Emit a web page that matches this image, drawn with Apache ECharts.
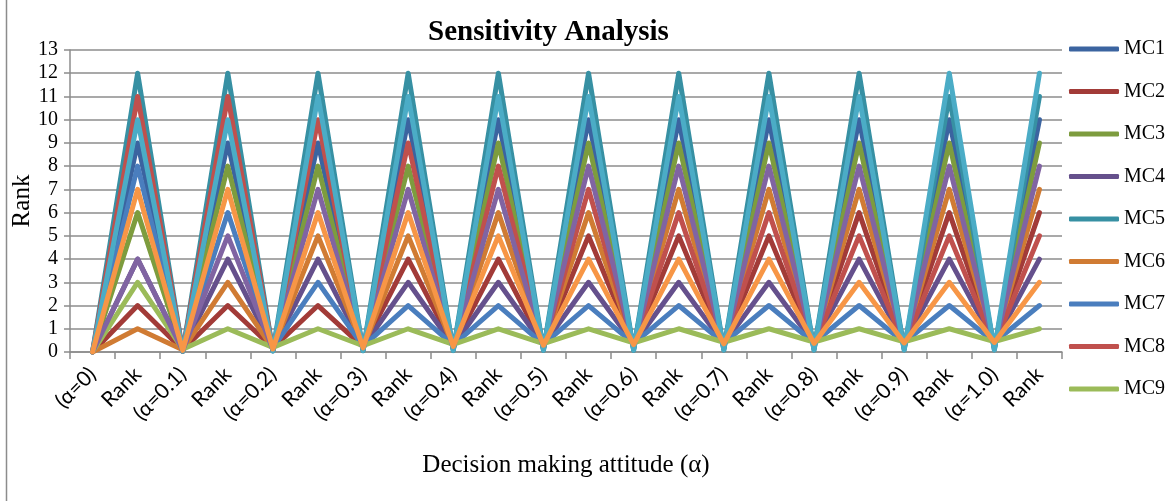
<!DOCTYPE html>
<html>
<head>
<meta charset="utf-8">
<script src="https://cdn.jsdelivr.net/npm/echarts@6/dist/echarts.min.js"></script>
<style>
html,body{margin:0;padding:0;background:#fff;}
#chart{width:1174px;height:501px;}
</style>
</head>
<body>
<div id="chart"></div>
<script>
var categories = ['(\u03b1=0)','Rank','(\u03b1=0.1)','Rank','(\u03b1=0.2)','Rank','(\u03b1=0.3)','Rank','(\u03b1=0.4)','Rank','(\u03b1=0.5)','Rank','(\u03b1=0.6)','Rank','(\u03b1=0.7)','Rank','(\u03b1=0.8)','Rank','(\u03b1=0.9)','Rank','(\u03b1=1.0)','Rank'];
var yTicks = [0,1,2,3,4,5,6,7,8,9,10,11,12,13];
var seriesNames = ['MC1','MC2','MC3','MC4','MC5','MC6','MC7','MC8','MC9','MC10','MC11','MC12'];
var legendNames = ['MC1','MC2','MC3','MC4','MC5','MC6','MC7','MC8','MC9'];
var colors = ['#3B64A0','#A23B38','#7D9C3E','#65508C','#3790A3','#D07B33','#4A7EBE','#C0504D','#9BBB59','#8064A2','#4BACC6','#F79646'];

var MC1  = [0,9, 0.05,9, 0.08,9, 0.10,10, 0.12,10, 0.13,10, 0.14,10, 0.15,10, 0.15,10, 0.16,10, 0.16,10];
var MC2  = [0,2, 0.10,2, 0.17,2, 0.22,4, 0.26,4, 0.28,5, 0.31,5, 0.33,5, 0.34,6, 0.35,6, 0.36,6];
var MC3  = [0,6, 0.06,8, 0.09,8, 0.12,8, 0.15,9, 0.16,9, 0.17,9, 0.18,9, 0.19,9, 0.20,9, 0.20,9];
var MC4  = [0,4, 0.09,4, 0.16,4, 0.22,3, 0.27,3, 0.30,3, 0.33,3, 0.35,3, 0.37,4, 0.38,4, 0.39,4];
var MC5  = [0,12, 0.02,12, 0.04,12, 0.05,12, 0.06,12, 0.07,12, 0.07,12, 0.08,12, 0.08,12, 0.09,11, 0.09,11];
var MC6  = [0,1, 0.10,3, 0.15,5, 0.19,5, 0.23,6, 0.26,6, 0.28,7, 0.29,7, 0.30,7, 0.31,7, 0.32,7];
var MC7  = [0,8, 0.08,6, 0.17,3, 0.24,2, 0.30,2, 0.33,2, 0.36,2, 0.38,2, 0.40,2, 0.41,2, 0.42,2];
var MC8  = [0,11, 0.03,11, 0.06,10, 0.10,9, 0.15,8, 0.19,7, 0.24,6, 0.27,6, 0.29,5, 0.31,5, 0.33,5];
var MC9  = [0,3, 0.12,1, 0.20,1, 0.27,1, 0.33,1, 0.36,1, 0.39,1, 0.42,1, 0.43,1, 0.44,1, 0.45,1];
var MC10 = [0,4, 0.07,5, 0.11,7, 0.15,7, 0.18,7, 0.19,8, 0.21,8, 0.22,8, 0.23,8, 0.24,8, 0.25,8];
var MC11 = [0,10, 0.03,10, 0.04,11, 0.06,11, 0.07,11, 0.08,11, 0.08,11, 0.09,11, 0.09,11, 0.09,12, 0.09,12];
var MC12 = [0,7, 0.07,7, 0.13,6, 0.18,6, 0.24,5, 0.29,4, 0.32,4, 0.35,4, 0.37,3, 0.39,3, 0.41,3];
var seriesData = [MC1,MC2,MC3,MC4,MC5,MC6,MC7,MC8,MC9,MC10,MC11,MC12];

var chart = echarts.init(document.getElementById('chart'), null, {renderer:'canvas'});
var gridColor = '#8c8c8c';
var series = seriesNames.map(function(n,i){
  return {
    name:n, type:'line', data:seriesData[i], symbol:'none', smooth:false,
    lineStyle:{width:5, color:colors[i], cap:'round', join:'round'},
    itemStyle:{color:colors[i]},
    emphasis:{disabled:true}, animation:false
  };
});
chart.setOption({
  animation:false,
  color:colors,
  title:{
    text:'Sensitivity Analysis', left:423, top:13,
    textStyle:{fontFamily:'Liberation Serif', fontSize:29, fontWeight:'bold', color:'#000'}
  },
  legend:{
    data:legendNames, orient:'vertical', left:1064, top:34,
    icon:'roundRect', itemWidth:50, itemHeight:5, itemGap:22.5,
    textStyle:{fontFamily:'Liberation Serif', fontSize:20, color:'#000', lineHeight:20}
  },
  graphic:[{type:'line', z:100, shape:{x1:6.5,y1:0,x2:6.5,y2:501}, style:{stroke:'#8c8c8c', lineWidth:1.5}}],
  grid:{left:70, right:112, top:50, bottom:149, containLabel:false, outerBoundsMode:'none'},
  xAxis:{
    type:'category', data:categories, boundaryGap:true,
    name:'Decision making attitude (\u03b1)', nameLocation:'middle', nameGap:101, nameMoveOverlap:false,
    nameTextStyle:{fontFamily:'Liberation Serif', fontSize:25, color:'#000'},
    axisLine:{lineStyle:{color:gridColor, width:1.5}},
    axisTick:{show:true, alignWithLabel:false, length:7, lineStyle:{color:gridColor, width:1.5}},
    axisLabel:{rotate:45, interval:0, margin:19, fontFamily:'Lato', fontSize:21, color:'#000'}
  },
  yAxis:{
    type:'value', min:yTicks[0], max:yTicks[yTicks.length-1], interval:1,
    name:'Rank', nameLocation:'middle', nameGap:35, nameMoveOverlap:false,
    nameTextStyle:{fontFamily:'Liberation Serif', fontSize:25, color:'#000'},
    axisLine:{show:true, lineStyle:{color:gridColor, width:1.5}},
    axisTick:{show:true, length:6, lineStyle:{color:gridColor, width:1.5}},
    axisLabel:{margin:12, fontFamily:'Liberation Serif', fontSize:20, color:'#000'},
    splitLine:{lineStyle:{color:gridColor, width:1.5}}
  },
  series:series
});
</script>
</body>
</html>
